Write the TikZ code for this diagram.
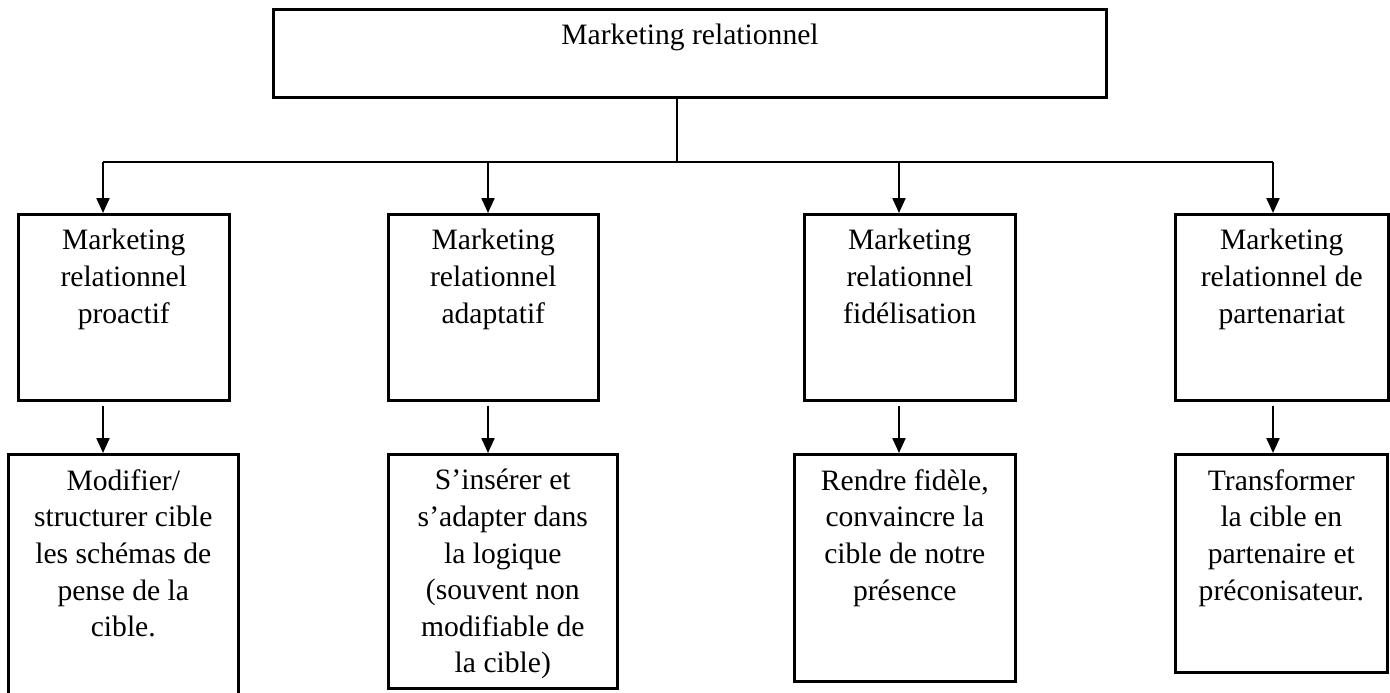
\documentclass[tikz,border=0pt]{standalone}
\usepackage{fontspec}
\setmainfont{Liberation Serif}
\usetikzlibrary{arrows.meta,positioning}

\begin{document}
\begin{tikzpicture}[x=0.5pt,y=-0.5pt,
  box/.style={draw, line width=1.3pt, inner sep=0pt, anchor=north west},
  txt/.style={align=center, inner sep=0pt, font={\fontsize{14.8}{18.3}\selectfont}},
  link/.style={line width=1pt},
  arr/.style={line width=1.1pt, -{Triangle[width=6.5pt,length=7.5pt]}}]
\useasboundingbox (0,0) rectangle (1390,692);
% top
\node[box, line width=1.5pt, minimum width=416.5pt, minimum height=44pt] (mr) at (272,8) {};
\node[txt, below=8pt of mr.north] (mrt) {Marketing relationnel};
% first row
\node[box, minimum width=105.5pt, minimum height=93pt] (p1) at (17,213) {};
\node[box, minimum width=105pt, minimum height=93pt] (p2) at (387,213) {};
\node[box, minimum width=105.5pt, minimum height=93pt] (p3) at (803,213) {};
\node[box, minimum width=106.5pt, minimum height=93pt] (p4) at (1174,213) {};
\node[txt, below=8pt of p1.north] (p1t) {Marketing\\relationnel\\proactif};
\node[txt, below=8pt of p2.north] (p2t) {Marketing\\relationnel\\adaptatif};
\node[txt, below=8pt of p3.north] (p3t) {Marketing\\relationnel\\fidélisation};
\node[txt, below=8pt of p4.north] (p4t) {Marketing\\relationnel de\\partenariat};
% second row
\node[box, minimum width=115pt, minimum height=135pt] (c1) at (7,453) {};
\node[box, minimum width=114.5pt, minimum height=117pt] (c2) at (387,453) {};
\node[box, minimum width=110.5pt, minimum height=113.5pt] (c3) at (793,453) {};
\node[box, minimum width=106pt, minimum height=109pt] (c4) at (1174,453) {};
\node[txt, below=8pt of c1.north] (c1t) {Modifier/\\structurer cible\\les schémas de\\pense de la\\cible.};
\node[txt, below=8pt of c2.north] (c2t) {S’insérer et\\s’adapter dans\\la logique\\(souvent non\\modifiable de\\la cible)};
\node[txt, below=8pt of c3.north] (c3t) {Rendre fidèle,\\convaincre la\\cible de notre\\présence};
\node[txt, below=8pt of c4.north] (c4t) {Transformer\\la cible en\\partenaire et\\préconisateur.};
% connectors
\coordinate (hub) at (677,162);
\coordinate (k1) at (103,162);
\coordinate (k2) at (488,162);
\coordinate (k3) at (899,162);
\coordinate (k4) at (1273,162);
\draw[link] (hub |- mr.south) -- (hub);
\draw[link] (k1) -- (k4);
\foreach \i in {1,...,4} {
  \draw[arr] (k\i) -- (k\i |- p\i.north);
  \draw[arr, shorten <=2pt] (k\i |- p\i.south) -- (k\i |- c\i.north);
}
\end{tikzpicture}
\end{document}
